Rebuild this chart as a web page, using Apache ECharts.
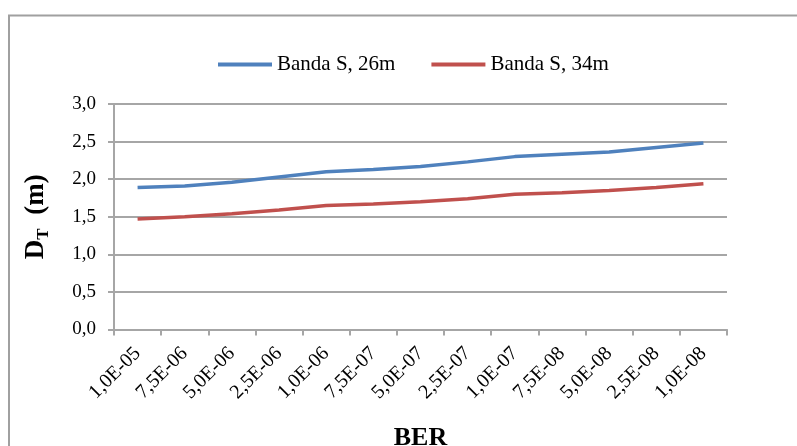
<!DOCTYPE html>
<html>
<head>
<meta charset="utf-8">
<script src="https://cdn.jsdelivr.net/npm/echarts@6/dist/echarts.min.js"></script>
<style>
  html, body { margin: 0; padding: 0; background: #fff; }
  #chart { width: 797px; height: 446px; }
</style>
</head>
<body>
<div id="chart"></div>
<script>
// Bit error rate categories along the horizontal axis
const berLabels = ['1,0E-05', '7,5E-06', '5,0E-06', '2,5E-06', '1,0E-06', '7,5E-07', '5,0E-07',
                   '2,5E-07', '1,0E-07', '7,5E-08', '5,0E-08', '2,5E-08', '1,0E-08'];

// D_T in metres for each configuration
const bandaS26 = [1.89, 1.91, 1.96, 2.03, 2.10, 2.13, 2.17, 2.23, 2.30, 2.33, 2.36, 2.42, 2.48];
const bandaS34 = [1.47, 1.50, 1.54, 1.59, 1.65, 1.67, 1.70, 1.74, 1.80, 1.82, 1.85, 1.89, 1.94];

const seriesNames = ['Banda S, 26m', 'Banda S, 34m'];
const yTicks = { min: 0, max: 3, interval: 0.5 };

const serif = '"Liberation Serif", "DejaVu Serif", serif';
const gridColor = '#a6a6a6';

const chart = echarts.init(document.getElementById('chart'), null, { renderer: 'canvas' });

chart.setOption({
  backgroundColor: '#ffffff',
  animation: false,
  graphic: [{
    type: 'rect',
    shape: { x: 9, y: 15.5, width: 820, height: 460 },
    style: { fill: 'none', stroke: '#a0a0a0', lineWidth: 2 },
    silent: true
  }],
  legend: {
    left: 213,
    top: 49,
    itemWidth: 54,
    itemHeight: 4,
    itemGap: 36,
    icon: 'rect',
    textStyle: { fontFamily: serif, fontSize: 21, color: '#000' },
    data: seriesNames
  },
  grid: {
    left: 114, right: 70, top: 104, bottom: 116.5,
    containLabel: false,
    outerBoundsMode: 'none'
  },
  xAxis: {
    type: 'category',
    data: berLabels,
    boundaryGap: true,
    name: 'BER',
    nameLocation: 'middle',
    nameGap: 96,
    nameTextStyle: { fontFamily: serif, fontSize: 26, fontWeight: 'bold', color: '#000' },
    axisLine: { lineStyle: { color: gridColor, width: 2 } },
    axisTick: { show: true, alignWithLabel: false, length: 6, lineStyle: { color: gridColor, width: 2 } },
    axisLabel: {
      interval: 0,
      rotate: 45,
      margin: 21,
      fontFamily: serif,
      fontSize: 20,
      color: '#000'
    },
    splitLine: { show: false }
  },
  yAxis: {
    type: 'value',
    min: yTicks.min,
    max: yTicks.max,
    interval: yTicks.interval,
    name: '{a|D}{b|T}{a|  (m)}',
    nameLocation: 'middle',
    nameGap: 62,
    nameRotate: 90,
    nameTextStyle: {
      color: '#000',
      rich: {
        a: { fontFamily: serif, fontSize: 27, fontWeight: 'bold', color: '#000', lineHeight: 32 },
        b: { fontFamily: serif, fontSize: 17, fontWeight: 'bold', color: '#000', padding: [15, 0, 0, 0], lineHeight: 32 }
      }
    },
    axisLine: { show: true, lineStyle: { color: gridColor, width: 2 } },
    axisTick: { show: true, length: 6, lineStyle: { color: gridColor, width: 2 } },
    axisLabel: {
      margin: 18,
      fontFamily: serif,
      fontSize: 19,
      color: '#000',
      formatter: v => v.toFixed(1).replace('.', ',')
    },
    splitLine: { show: true, lineStyle: { color: gridColor, width: 2 } }
  },
  series: [
    {
      name: seriesNames[0],
      type: 'line',
      data: bandaS26,
      showSymbol: false,
      symbol: 'none',
      lineStyle: { color: '#4f81bd', width: 3.5 },
      itemStyle: { color: '#4f81bd' }
    },
    {
      name: seriesNames[1],
      type: 'line',
      data: bandaS34,
      showSymbol: false,
      symbol: 'none',
      lineStyle: { color: '#c0504d', width: 3.5 },
      itemStyle: { color: '#c0504d' }
    }
  ]
});
</script>
</body>
</html>
